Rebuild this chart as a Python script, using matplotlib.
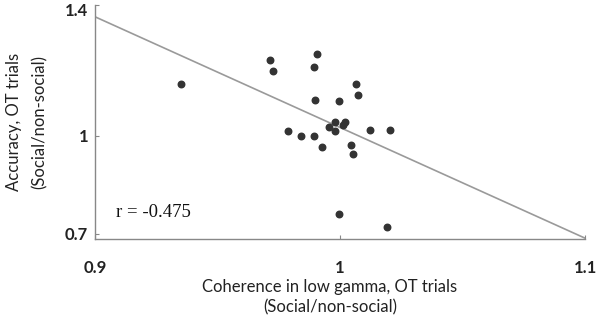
import matplotlib.pyplot as plt
from matplotlib import transforms

# coherence ratio (x) vs accuracy ratio (y), one point per subject
coherence = [0.935, 0.9716, 0.9727, 0.9907, 0.9895, 1.0067, 1.0072, 0.9898,
             0.9997, 0.9981, 1.0020, 1.0011, 0.9954, 0.9981, 0.9789, 0.9842,
             0.9895, 1.0122, 1.0203, 0.9927, 1.0045, 1.0052, 0.9997, 1.0193]
accuracy = [1.159, 1.231, 1.199, 1.249, 1.211, 1.159, 1.124, 1.109,
            1.106, 1.042, 1.042, 1.033, 1.026, 1.014, 1.015, 0.999,
            0.999, 1.017, 1.017, 0.966, 0.972, 0.943, 0.762, 0.721]

# regression line end points
fit_x = [0.9, 1.1]
fit_y = [1.364, 0.687]
r_value = -0.475

x_ticks = [0.9, 1.0, 1.1]
x_ticklabels = ["0.9", "1", "1.1"]
y_ticks = [0.7, 1.0, 1.4]
y_ticklabels = ["0.7", "1", "1.4"]

plt.rcParams['font.family'] = ['Lato', 'DejaVu Sans']

fig = plt.figure(figsize=(5.98, 3.19), dpi=100)
ax = fig.add_axes([95/598, 80/319, 490/598, 234/319])

ax.plot(fit_x, fit_y, color='#9a9a9a', linewidth=1.2, zorder=1)
ax.scatter(coherence, accuracy, s=22, color='#333333', zorder=2)

ax.set_xlim(0.9, 1.1)
ax.set_ylim(0.6844, 1.4)
ax.set_xticks(x_ticks)
ax.set_xticklabels(x_ticklabels, fontsize=12, fontweight='bold', color='#222222')
ax.set_yticks(y_ticks)
ax.set_yticklabels(y_ticklabels, fontsize=12, fontweight='bold', color='#222222')
ax.tick_params(axis='x', direction='in', length=3, width=0.8, color='#888888', pad=15)
ax.tick_params(axis='y', direction='in', length=3, width=0.8, color='#888888', pad=5)

# top label sits a little lower so it stays inside the figure
top_label = ax.get_yticklabels()[-1]
top_label.set_transform(top_label.get_transform() +
                        transforms.ScaledTranslation(0, -3/72, fig.dpi_scale_trans))

for side in ['top', 'right']:
    ax.spines[side].set_visible(False)
for side in ['left', 'bottom']:
    ax.spines[side].set_color('#888888')
    ax.spines[side].set_linewidth(1.0)

ax.set_xlabel("Coherence in low gamma, OT trials\n(Social/non-social)",
              fontsize=12, color='#222222', linespacing=1.3)
ax.xaxis.set_label_coords(0.4796, -0.171)
ax.set_ylabel("Accuracy, OT trials\n(Social/non-social)",
              fontsize=12, color='#222222', linespacing=1.75)
ax.yaxis.set_label_coords(-0.097, 0.5)

ax.text(0.9085, 0.765, "r = {}".format(r_value), fontsize=13.5,
        family=['Liberation Serif', 'DejaVu Serif'], color='#111111', va='center')

plt.savefig("out.png", dpi=100)
plt.close('all')
